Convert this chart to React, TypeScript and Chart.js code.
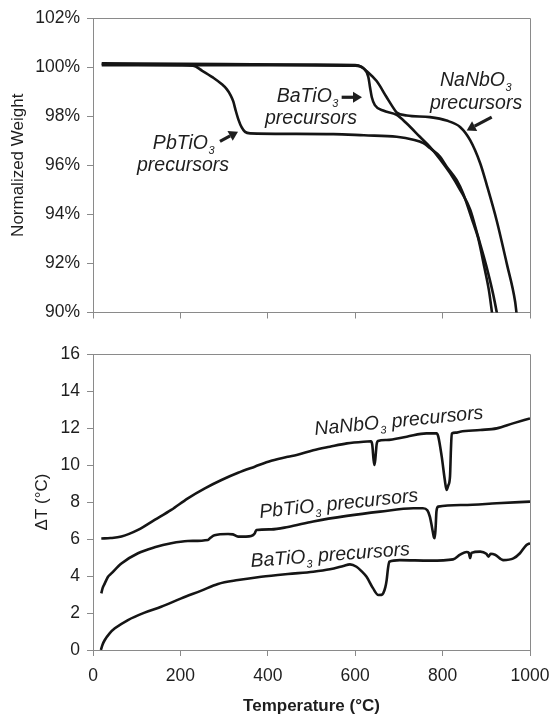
import React, { useEffect, useRef } from "react";
import { Chart, registerables } from "chart.js";

Chart.register(...registerables);

// ---------- Data ----------
const X_MIN = 0;
const X_MAX = 1000;
const X_STEP = 200;

// Top panel: TGA, normalized weight (%)
const tgaPbT = [20, 100, 200, 229, 250, 275, 295, 306, 315, 321, 327, 333, 340, 348, 360, 450, 550, 620, 695, 733, 756, 771, 794, 809, 832, 847, 870, 881, 896, 906, 913, 916];
const tgaPbW = [100.12, 100.1, 100.08, 100.06, 99.85, 99.57, 99.3, 99.1, 98.85, 98.6, 98.2, 97.85, 97.55, 97.36, 97.3, 97.28, 97.27, 97.22, 97.16, 97.04, 96.9, 96.7, 96.35, 95.95, 95.4, 94.85, 93.65, 93.06, 91.8, 90.9, 90.0, 89.6];

const tgaBaT = [20, 300, 500, 600, 619, 630, 634, 638, 645, 664, 695, 718, 748, 771, 794, 817, 840, 863, 881, 900, 915, 924, 928];
const tgaBaW = [100.08, 100.08, 100.07, 100.06, 99.95, 99.6, 99.17, 98.77, 98.45, 98.23, 98.05, 97.7, 97.16, 96.75, 96.25, 95.68, 95.0, 94.2, 93.1, 91.9, 90.8, 90.0, 89.6];

const tgaNaT = [20, 300, 500, 600, 615, 626, 649, 672, 685, 695, 718, 771, 809, 840, 863, 886, 901, 924, 947, 966, 969, 972];
const tgaNaW = [100.15, 100.12, 100.1, 100.08, 100.0, 99.84, 99.43, 98.77, 98.4, 98.15, 98.03, 97.96, 97.82, 97.56, 97.02, 96.08, 95.2, 93.73, 91.98, 90.44, 90.0, 89.6];

const tgaYTicks = [90, 92, 94, 96, 98, 100, 102];

// Bottom panel: DTA, ΔT (°C)
const dtaNaT = [19, 40, 65, 103, 141, 179, 217, 256, 294, 332, 370, 408, 446, 466, 504, 542, 581, 619, 636, 639, 642, 644, 646, 649, 652, 672, 718, 763, 786, 790, 798, 805, 809, 813, 817, 819, 821, 830, 840, 886, 924, 961, 1000];
const dtaNaV = [6.03, 6.05, 6.13, 6.49, 7.03, 7.57, 8.2, 8.74, 9.19, 9.58, 9.91, 10.23, 10.45, 10.54, 10.8, 10.99, 11.17, 11.26, 11.28, 11.1, 10.3, 10.0, 10.3, 11.1, 11.3, 11.35, 11.53, 11.71, 11.71, 11.55, 10.45, 9.2, 8.65, 8.9, 9.4, 10.8, 11.7, 11.75, 11.8, 11.89, 11.98, 12.25, 12.52];

const dtaPbT = [19, 22, 27, 34, 42, 65, 103, 141, 179, 217, 263, 268, 278, 309, 320, 332, 350, 362, 370, 374, 408, 446, 504, 581, 657, 733, 755, 765, 771, 776, 780, 782, 784, 786, 790, 847, 924, 1000];
const dtaPbV = [3.06, 3.35, 3.6, 3.95, 4.14, 4.68, 5.23, 5.55, 5.77, 5.89, 5.95, 6.05, 6.2, 6.27, 6.25, 6.13, 6.13, 6.16, 6.3, 6.49, 6.52, 6.65, 6.95, 7.25, 7.48, 7.66, 7.66, 7.55, 7.2, 6.6, 6.1, 6.05, 6.6, 7.5, 7.75, 7.84, 7.93, 8.02];

const dtaBaT = [18, 22, 27, 38, 50, 80, 118, 156, 202, 248, 286, 332, 385, 446, 504, 542, 573, 588, 603, 615, 626, 641, 653, 660, 664, 669, 672, 675, 678, 702, 771, 824, 840, 855, 860, 863, 866, 886, 900, 905, 910, 920, 939, 962, 977, 992, 1000];
const dtaBaV = [0.0, 0.3, 0.54, 0.9, 1.17, 1.62, 2.02, 2.34, 2.79, 3.21, 3.57, 3.78, 3.96, 4.11, 4.23, 4.36, 4.54, 4.63, 4.5, 4.25, 3.96, 3.33, 2.97, 2.98, 3.06, 3.4, 3.78, 4.4, 4.77, 4.86, 4.83, 4.9, 5.15, 5.3, 5.25, 4.97, 5.25, 5.32, 5.2, 5.05, 5.2, 5.15, 4.86, 4.95, 5.23, 5.68, 5.77];

const dtaYTicks = [0, 2, 4, 6, 8, 10, 12, 14, 16];

// Labels
const TGA_Y_TITLE = "Normalized Weight";
const DTA_Y_TITLE = "ΔT (°C)";
const X_TITLE = "Temperature (°C)";

// ---------- Styling ----------
const FONT = "'Liberation Sans', Arial, Helvetica, sans-serif";
const AXIS_COLOR = "#8a8a8a";
const TEXT_COLOR = "#1e1e1e";
const LINE_COLOR = "#151515";
const W = 554;

type Part = { text: string; sub?: boolean };

function drawRich(ctx: CanvasRenderingContext2D, x: number, y: number, parts: Part[], size: number) {
  let cx = x;
  ctx.textBaseline = "alphabetic";
  ctx.textAlign = "left";
  for (const p of parts) {
    if (p.sub) {
      ctx.font = `italic ${size * 0.56}px ${FONT}`;
      ctx.fillText(p.text, cx + 0.5, y + size * 0.26);
      cx += ctx.measureText(p.text).width + 1;
    } else {
      ctx.font = `italic ${size}px ${FONT}`;
      ctx.fillText(p.text, cx, y);
      cx += ctx.measureText(p.text).width;
    }
  }
}

function drawArrow(ctx: CanvasRenderingContext2D, x1: number, y1: number, x2: number, y2: number) {
  const ang = Math.atan2(y2 - y1, x2 - x1);
  const c = Math.cos(ang);
  const s = Math.sin(ang);
  const head = 9;
  const hw = 5.5;
  ctx.lineWidth = 3.2;
  ctx.lineCap = "butt";
  ctx.beginPath();
  ctx.moveTo(x1, y1);
  ctx.lineTo(x2 - head * c, y2 - head * s);
  ctx.stroke();
  ctx.beginPath();
  ctx.moveTo(x2, y2);
  ctx.lineTo(x2 - head * c - hw * s, y2 - head * s + hw * c);
  ctx.lineTo(x2 - head * c + hw * s, y2 - head * s - hw * c);
  ctx.closePath();
  ctx.fill();
}

// Annotation anchors in data coordinates (temperature, value)
const tgaTexts = [
  { t: 137, v: 96.68, parts: [{ text: "PbTiO" }, { text: "3", sub: true }] },
  { t: 100.7, v: 95.76, parts: [{ text: "precursors" }] },
  { t: 420.4, v: 98.57, parts: [{ text: "BaTiO" }, { text: "3", sub: true }] },
  { t: 393.6, v: 97.69, parts: [{ text: "precursors" }] },
  { t: 794, v: 99.23, parts: [{ text: "NaNbO" }, { text: "3", sub: true }] },
  { t: 771.2, v: 98.3, parts: [{ text: "precursors" }] },
];
const tgaArrows = [
  { t1: 290.6, v1: 96.97, t2: 331.8, v2: 97.37 },
  { t1: 569, v1: 98.77, t2: 615.6, v2: 98.77 },
  { t1: 912.4, v1: 97.96, t2: 855.1, v2: 97.42 },
];
const dtaTexts = [
  { t: 508, v: 11.62, rot: -5.6, parts: [{ text: "NaNbO" }, { text: "3", sub: true }, { text: " precursors" }] },
  { t: 382, v: 7.14, rot: -6.0, parts: [{ text: "PbTiO" }, { text: "3", sub: true }, { text: " precursors" }] },
  { t: 361.6, v: 4.49, rot: -4.3, parts: [{ text: "BaTiO" }, { text: "3", sub: true }, { text: " precursors" }] },
];

const ANN_SIZE = 19.5;

function makeAnnotPlugin(texts: any[], arrows: any[]) {
  return {
    id: "annot",
    afterDraw(chart: any) {
      const { ctx, chartArea, scales } = chart;
      ctx.save();
      // frame (top & right sides)
      ctx.strokeStyle = AXIS_COLOR;
      ctx.lineWidth = 1;
      const l = Math.round(chartArea.left) + 0.5;
      const t = Math.round(chartArea.top) + 0.5;
      const r = Math.round(chartArea.right) + 0.5;
      const b = Math.round(chartArea.bottom) + 0.5;
      ctx.beginPath();
      ctx.moveTo(l, t);
      ctx.lineTo(r, t);
      ctx.lineTo(r, b);
      ctx.stroke();
      ctx.fillStyle = TEXT_COLOR;
      ctx.strokeStyle = TEXT_COLOR;
      for (const a of texts) {
        const x = scales.x.getPixelForValue(a.t);
        const y = scales.y.getPixelForValue(a.v);
        ctx.save();
        ctx.translate(x, y);
        if (a.rot) ctx.rotate((a.rot * Math.PI) / 180);
        drawRich(ctx, 0, 0, a.parts, ANN_SIZE);
        ctx.restore();
      }
      for (const a of arrows) {
        drawArrow(
          ctx,
          scales.x.getPixelForValue(a.t1),
          scales.y.getPixelForValue(a.v1),
          scales.x.getPixelForValue(a.t2),
          scales.y.getPixelForValue(a.v2)
        );
      }
      ctx.restore();
    },
  };
}

function series(ts: number[], vs: number[]) {
  return {
    data: ts.map((t, i) => ({ x: t, y: vs[i] })),
    borderColor: LINE_COLOR,
    borderWidth: 2.6,
    pointRadius: 0,
    cubicInterpolationMode: "monotone" as const,
    fill: false,
  };
}

const tickFont = { family: FONT, size: 17.5 };
const titleFont = { family: FONT, size: 17 };

function fitX(height: number) {
  return (s: any) => {
    s.height = height;
    s.paddingLeft = 0;
    s.paddingRight = 0;
  };
}

export default function App() {
  const topRef = useRef<HTMLCanvasElement>(null);
  const botRef = useRef<HTMLCanvasElement>(null);

  useEffect(() => {
    const top = new Chart(topRef.current as HTMLCanvasElement, {
      type: "line",
      data: {
        datasets: [series(tgaPbT, tgaPbW), series(tgaBaT, tgaBaW), series(tgaNaT, tgaNaW)],
      },
      options: {
        animation: false,
        responsive: false,
        events: [],
        layout: { padding: { top: 18, right: 24, left: 0, bottom: 0 } },
        plugins: { legend: { display: false }, tooltip: { enabled: false } },
        scales: {
          x: {
            type: "linear",
            min: X_MIN,
            max: X_MAX,
            afterFit: fitX(14),
            ticks: { display: false, stepSize: X_STEP },
            grid: { drawOnChartArea: false, drawTicks: true, tickLength: 6, color: AXIS_COLOR },
            border: { display: true, color: AXIS_COLOR },
          },
          y: {
            type: "linear",
            min: tgaYTicks[0],
            max: tgaYTicks[tgaYTicks.length - 1],
            afterFit: (s: any) => { s.width = 93; },
            afterBuildTicks: (s: any) => { s.ticks = tgaYTicks.map((v) => ({ value: v })); },
            ticks: { callback: (v: any) => `${v}%`, font: tickFont, color: TEXT_COLOR, padding: 7 },
            grid: { drawOnChartArea: false, drawTicks: true, tickLength: 6, color: AXIS_COLOR },
            border: { display: true, color: AXIS_COLOR },
            title: { display: true, text: TGA_Y_TITLE, font: titleFont, color: TEXT_COLOR, padding: { top: 8, bottom: 0 } },
          },
        },
      } as any,
      plugins: [makeAnnotPlugin(tgaTexts, tgaArrows)],
    });

    const bot = new Chart(botRef.current as HTMLCanvasElement, {
      type: "line",
      data: {
        datasets: [series(dtaNaT, dtaNaV), series(dtaPbT, dtaPbV), series(dtaBaT, dtaBaV)],
      },
      options: {
        animation: false,
        responsive: false,
        events: [],
        layout: { padding: { top: 24, right: 24, left: 0, bottom: 0 } },
        plugins: { legend: { display: false }, tooltip: { enabled: false } },
        scales: {
          x: {
            type: "linear",
            min: X_MIN,
            max: X_MAX,
            afterFit: fitX(67),
            ticks: { stepSize: X_STEP, font: tickFont, color: TEXT_COLOR, padding: 10, maxRotation: 0, callback: (v: any) => String(v) },
            grid: { drawOnChartArea: false, drawTicks: true, tickLength: 6, color: AXIS_COLOR },
            border: { display: true, color: AXIS_COLOR },
            title: { display: true, text: X_TITLE, font: { ...titleFont, weight: "bold" }, color: TEXT_COLOR, padding: { top: 0, bottom: 0 } },
          },
          y: {
            type: "linear",
            min: dtaYTicks[0],
            max: dtaYTicks[dtaYTicks.length - 1],
            afterFit: (s: any) => { s.width = 93; },
            afterBuildTicks: (s: any) => { s.ticks = dtaYTicks.map((v) => ({ value: v })); },
            ticks: { font: tickFont, color: TEXT_COLOR, padding: 7 },
            grid: { drawOnChartArea: false, drawTicks: true, tickLength: 6, color: AXIS_COLOR },
            border: { display: true, color: AXIS_COLOR },
            title: { display: true, text: DTA_Y_TITLE, font: titleFont, color: TEXT_COLOR, padding: { top: 32, bottom: 0 } },
          },
        },
      } as any,
      plugins: [makeAnnotPlugin(dtaTexts, [])],
    });

    return () => {
      top.destroy();
      bot.destroy();
    };
  }, []);

  return (
    <div style={{ position: "absolute", left: 0, top: 0, width: W, height: 717, background: "#fff" }}>
      <canvas ref={topRef} width={W} height={330} style={{ position: "absolute", left: 0, top: 0, width: W, height: 330 }} />
      <canvas ref={botRef} width={W} height={387} style={{ position: "absolute", left: 0, top: 330, width: W, height: 387 }} />
    </div>
  );
}
